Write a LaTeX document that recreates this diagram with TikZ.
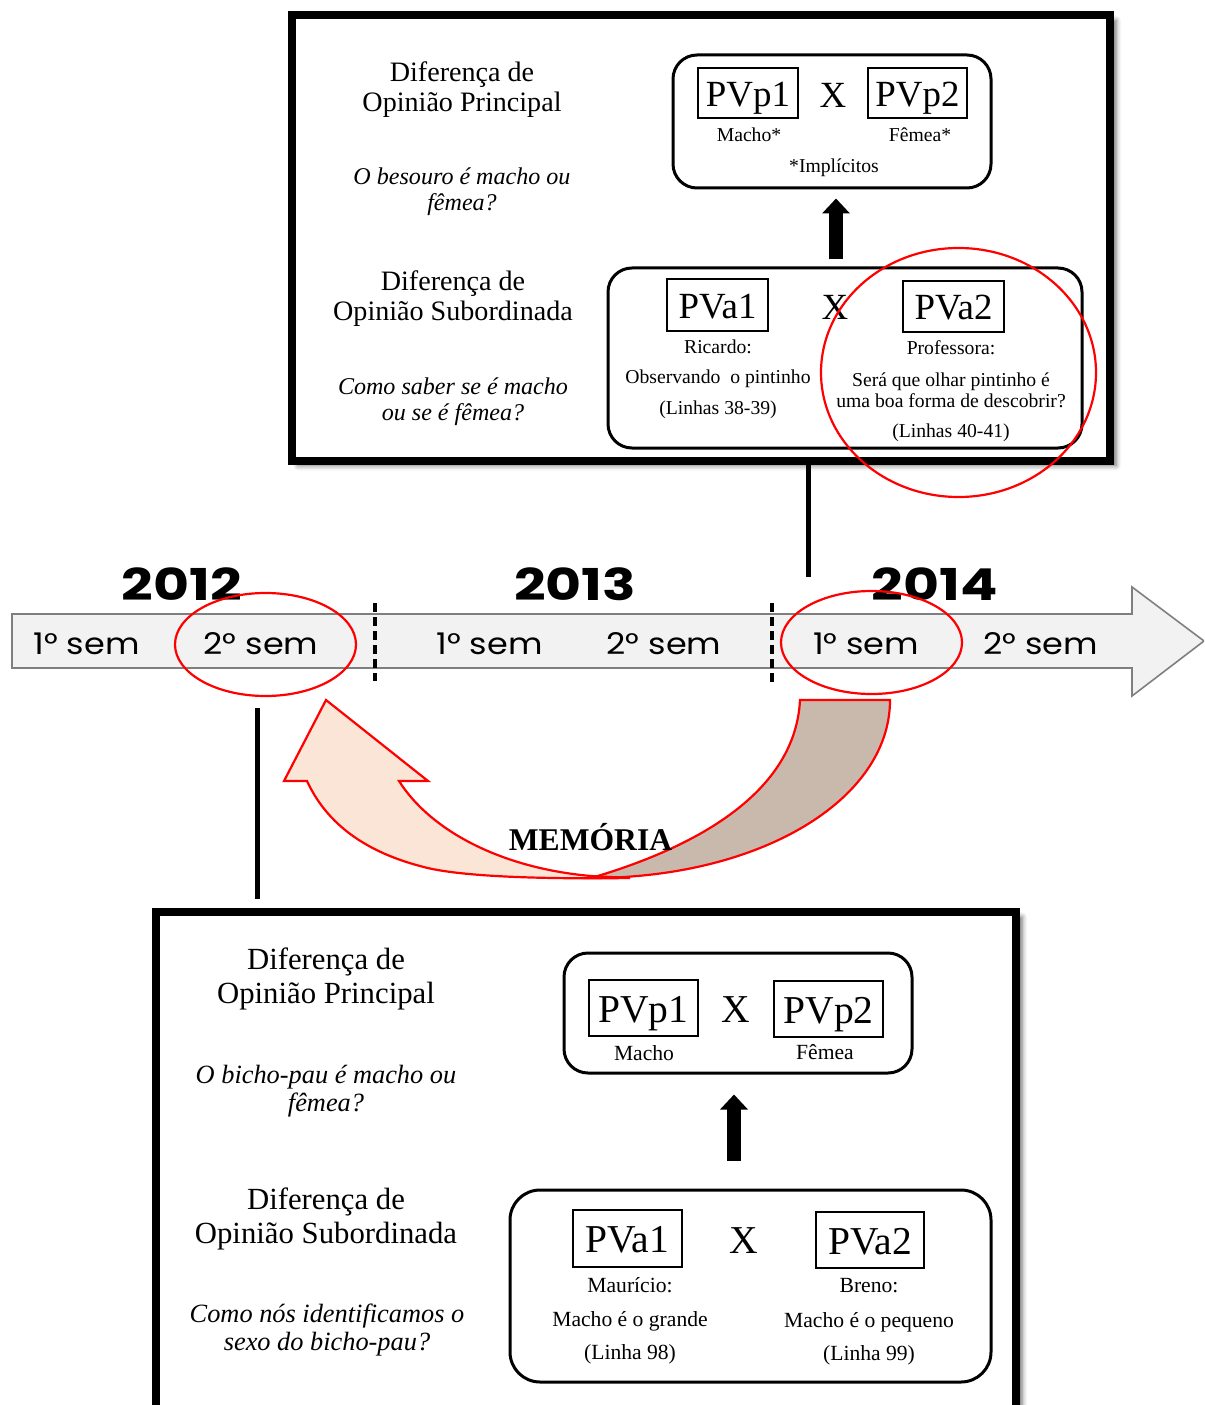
\documentclass[tikz,border=0pt]{standalone}
\usepackage{fontspec}
\setmainfont{Liberation Serif}
\newfontfamily\geofont[FakeStretch=1.12]{Poppins}
\newfontfamily\yearfont[FakeStretch=1.26]{Poppins}
\usetikzlibrary{shapes.geometric,shadows.blur,arrows.meta}
\definecolor{tlfill}{HTML}{F2F2F2}
\definecolor{tlline}{HTML}{7F7F7F}
\definecolor{peach}{HTML}{FBE5D6}
\definecolor{taupe}{HTML}{C9B8AC}
\definecolor{redline}{HTML}{FF0000}
% one unit of the drawing grid as a length
\newcommand\pxl[1]{#1*0.02cm}
\begin{document}
\begin{tikzpicture}[x=0.02cm,y=-0.02cm,
  panel/.style={draw=black, line width=\pxl{8}, fill=white, inner sep=0pt,
    blur shadow={shadow xshift=\pxl{6}, shadow yshift=-\pxl{5},
                 shadow blur radius=\pxl{5}, shadow opacity=60}},
  rbox/.style={draw=black, line width=\pxl{3}, rounded corners=\pxl{24}, inner sep=0pt},
  pvbox/.style={draw=black, line width=\pxl{1.6}, inner sep=0pt},
  txt/.style={inner sep=0pt, align=center},
  headA/.style={txt, font=\fontsize{16}{17}\selectfont},
  quesA/.style={txt, font=\fontsize{13.7}{14.7}\selectfont\itshape},
  headB/.style={txt, font=\fontsize{17.5}{18.9}\selectfont},
  quesB/.style={txt, font=\fontsize{15}{16}\selectfont\itshape},
  pvA/.style={font=\fontsize{21}{24}\selectfont},
  pvB/.style={font=\fontsize{22.5}{25}\selectfont},
  pvtextA/.style={pvA, text height=\pxl{27}, text depth=0pt},
  pvtextB/.style={pvB, text height=\pxl{28}, text depth=0pt},
  smallA/.style={txt, font=\fontsize{11.2}{12}\selectfont},
  smallB/.style={txt, font=\fontsize{12.3}{14}\selectfont},
  redell/.style={ellipse, draw=redline, line width=\pxl{2.2}, inner sep=0pt},
  bigarrow/.style={line width=\pxl{14}, -{Triangle[width=\pxl{27},length=\pxl{15}]}},
  link/.style={line width=\pxl{5}},
  semlab/.style={inner sep=0pt, anchor=base, font=\geofont\fontsize{17}{20}\selectfont},
  yearlab/.style={inner sep=0pt, anchor=base, font=\yearfont\bfseries\fontsize{25}{28}\selectfont},
  semdiv/.style={line width=\pxl{3.5}, dash pattern=on \pxl{9} off \pxl{5}},
  band/.style={draw=redline, line width=\pxl{2.2}, line join=miter}
]
\useasboundingbox (0,0) rectangle (1204,1405);
\clip (0,0) rectangle (1204,1405);

% ---------- upper panel (2014) ----------
\node[panel, minimum width=\pxl{818}, minimum height=\pxl{445}] (toppanel) at (701,238) {};

\node[headA] (t-dop) at (462,90) {Diferença de\\Opinião Principal};
\node[quesA] (t-qp)  at (462,192) {O besouro é macho ou\\fêmea?};
\node[headA] (t-dos) at (453,299) {Diferença de\\Opinião Subordinada};
\node[quesA] (t-qs)  at (453,402) {Como saber se é macho\\ou se é fêmea?};

\node[rbox, minimum width=\pxl{318}, minimum height=\pxl{133}] (t-pbox) at (832,121.5) {};
\node[pvbox, pvtextA, minimum width=\pxl{100}, minimum height=\pxl{50}] (t-pvp1) at (748,93) {PVp1};
\node[pvbox, pvtextA, minimum width=\pxl{99}, minimum height=\pxl{50}] (t-pvp2) at (917.5,93) {PVp2};
\node[txt, pvA] (t-xp) at (833,95) {X};
\node[smallA] (t-m) at (749,135) {Macho*};
\node[smallA] (t-f) at (920,135) {Fêmea*};
\node[smallA] (t-imp) at (834,168) {*Implícitos};

\node[rbox, minimum width=\pxl{474}, minimum height=\pxl{180}] (t-abox) at (845,358) {};
\node[pvbox, pvtextA, minimum width=\pxl{101}, minimum height=\pxl{52}] (t-pva1) at (717.5,305) {PVa1};
\node[pvbox, pvtextA, minimum width=\pxl{101}, minimum height=\pxl{51}] (t-pva2) at (953.5,306.5) {PVa2};
\node[txt, pvA] (t-xa) at (835,307) {X};
\node[smallA] (t-ric) at (718,347) {Ricardo:};
\node[smallA] (t-obs) at (718,379) {Observando\ \ o pintinho};
\node[smallA] (t-l1) at (718,410) {(Linhas 38-39)};
\node[smallA] (t-prof) at (951,348) {Professora:};
\node[smallA] (t-ser) at (951,390) {Será que olhar pintinho é\\uma boa forma de descobrir?};
\node[smallA] (t-l2) at (951,433) {(Linhas 40-41)};

\coordinate (ta) at (836,0);
\draw[bigarrow, shorten <=\pxl{7}, shorten >=\pxl{9}] (t-abox.north -| ta) -- (t-pbox.south -| ta);

\node[redell, minimum width=\pxl{275}, minimum height=\pxl{249}] (t-ell) at (958.5,372.5) {};

% ---------- time line ----------
\draw[fill=tlfill, draw=tlline, line width=\pxl{1.6}]
  (12,614) -- (1132,614) -- (1132,587) -- (1204,641) -- (1132,696) -- (1132,668) -- (12,668) -- cycle;

\node[semlab] (s1) at (86.5,654) {1° sem};
\node[semlab] (s2) at (261,654) {2° sem};
\node[semlab] (s3) at (489.5,654) {1° sem};
\node[semlab] (s4) at (664,654) {2° sem};
\node[semlab] (s5) at (866,654) {1° sem};
\node[semlab] (s6) at (1040.5,654) {2° sem};

\node[yearlab] (y12) at (182,600) {2012};
\node[yearlab] (y13) at (575,600) {2013};
\node[yearlab] (y14) at (934.5,600) {2014};

\coordinate (d1a) at (375,603); \coordinate (d1b) at (375,681);
\coordinate (d2a) at (772,603); \coordinate (d2b) at (772,682);
\draw[semdiv] (d1a) -- (d1b);
\draw[semdiv] (d2a) -- (d2b);

\node[redell, minimum width=\pxl{181}, minimum height=\pxl{103}] (e12) at (265.5,644.5) {};
\node[redell, minimum width=\pxl{181}, minimum height=\pxl{103}] (e14) at (871.5,642.5) {};

% link from the upper panel down to the time line
\coordinate (c14) at (808,577);
\draw[link] (toppanel.south -| c14) -- (c14);

% link from the time line down to the lower panel
\coordinate (c12a) at (257,708);
\coordinate (c12b) at (257,899);
\draw[link] (c12a) -- (c12b);

% ---------- memory arrow ----------
\draw[band, fill=taupe]
  (800,700) -- (890,700) .. controls (890,800) and (760,878) .. (591,878)
  .. controls (680,852) and (795,800) .. (800,700) -- cycle;
\draw[band, fill=peach]
  (326,700) -- (428,781) -- (399,781) .. controls (430,830) and (500,868) .. (591,876)
  -- (630,878) .. controls (560,879) and (460,878) .. (420,866)
  .. controls (360,850) and (325,820) .. (307,781) -- (284,781) -- cycle;
\node[inner sep=0pt, anchor=base, font=\bfseries\fontsize{18}{20}\selectfont] (mem) at (590.5,850) {MEMÓRIA};

% ---------- lower panel (2012) ----------
\node[panel, minimum width=\pxl{860}, minimum height=\pxl{540}] (botpanel) at (586,1182) {};

\node[headB] (b-dop) at (326,979) {Diferença de\\Opinião Principal};
\node[quesB] (b-qp)  at (326,1091) {O bicho-pau é macho ou\\fêmea?};
\node[headB] (b-dos) at (326,1219) {Diferença de\\Opinião Subordinada};
\node[quesB] (b-qs)  at (327,1330) {Como nós identificamos o\\sexo do bicho-pau?};

\node[rbox, minimum width=\pxl{348}, minimum height=\pxl{120}] (b-pbox) at (738,1013) {};
\node[pvbox, pvtextB, minimum width=\pxl{109}, minimum height=\pxl{56}] (b-pvp1) at (643.5,1008) {PVp1};
\node[pvbox, pvtextB, minimum width=\pxl{109}, minimum height=\pxl{56}] (b-pvp2) at (828.5,1009) {PVp2};
\node[txt, pvB] (b-xp) at (736,1010) {X};
\node[smallB] (b-m) at (644,1053) {Macho};
\node[smallB] (b-f) at (825,1052) {Fêmea};

\node[rbox, rounded corners=\pxl{30}, minimum width=\pxl{481}, minimum height=\pxl{192}] (b-abox) at (750.5,1286) {};
\node[pvbox, pvtextB, minimum width=\pxl{109}, minimum height=\pxl{57}] (b-pva1) at (627.5,1238.5) {PVa1};
\node[pvbox, pvtextB, minimum width=\pxl{108}, minimum height=\pxl{56}] (b-pva2) at (870,1240) {PVa2};
\node[txt, pvB] (b-xa) at (744,1241) {X};
\node[smallB] (b-mau) at (630,1285) {Maurício:};
\node[smallB] (b-mg) at (630,1321) {Macho é o grande};
\node[smallB] (b-l1) at (630,1354) {(Linha 98)};
\node[smallB] (b-bre) at (869,1286) {Breno:};
\node[smallB] (b-mp) at (869,1322) {Macho é o pequeno};
\node[smallB] (b-l2) at (869,1355) {(Linha 99)};

\coordinate (ba) at (734,0);
\draw[bigarrow, shorten <=\pxl{28}, shorten >=\pxl{20}] (b-abox.north -| ba) -- (b-pbox.south -| ba);

\end{tikzpicture}
\end{document}
